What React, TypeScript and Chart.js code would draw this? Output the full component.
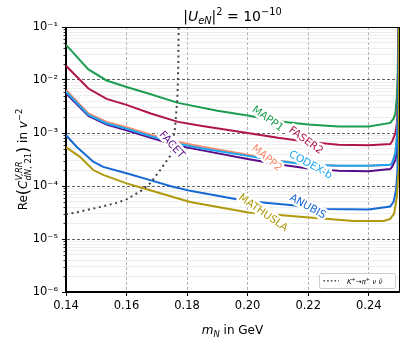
import React, { useEffect, useRef } from 'react';
import { Chart, registerables } from 'chart.js';

Chart.register(...registerables);

const FONT = "'DejaVu Sans', 'Liberation Sans', sans-serif";

// ---------- axis ticks ----------
const xTickValues = [0.14, 0.16, 0.18, 0.2, 0.22, 0.24];
const yDecadeValues = [1e-6, 1e-5, 1e-4, 1e-3, 1e-2, 1e-1];
const yDecadeLabels = ['10⁻⁶', '10⁻⁵', '10⁻⁴', '10⁻³', '10⁻²', '10⁻¹'];

// ---------- series (m_N in GeV, Re(C) in v^-2) ----------
const mapp1Mass = [0.14, 0.1474, 0.1534, 0.16, 0.168, 0.177, 0.19, 0.2, 0.21, 0.22, 0.23, 0.24, 0.2471, 0.2482, 0.2488, 0.2493, 0.2496, 0.24995];
const mapp1Values = [4.6e-2, 1.58e-2, 9.8e-3, 7.4e-3, 5.4e-3, 3.7e-3, 2.63e-3, 2.14e-3, 1.66e-3, 1.45e-3, 1.32e-3, 1.32e-3, 1.55e-3, 1.86e-3, 2.34e-3, 4.8e-3, 1.55e-2, 0.5];

const faser2Mass = [0.14, 0.1474, 0.1534, 0.16, 0.168, 0.177, 0.185, 0.2, 0.21, 0.22, 0.23, 0.24, 0.2471, 0.2477, 0.2488, 0.2493, 0.2496, 0.24995];
const faser2Values = [1.86e-2, 6.9e-3, 4.4e-3, 3.4e-3, 2.34e-3, 1.62e-3, 1.35e-3, 1.0e-3, 8.1e-4, 6.8e-4, 6.0e-4, 5.9e-4, 6.2e-4, 6.9e-4, 1.0e-3, 1.51e-3, 3.6e-3, 0.5];

const mapp2Mass = [0.14, 0.1474, 0.1534, 0.16, 0.168, 0.177, 0.185, 0.2, 0.21, 0.22, 0.23, 0.24, 0.2471, 0.2477, 0.2488, 0.2493, 0.2497, 0.24995];
const mapp2Values = [6.5e-3, 2.34e-3, 1.62e-3, 1.29e-3, 9.3e-4, 6.8e-4, 5.5e-4, 3.9e-4, 3.0e-4, 2.57e-4, 2.4e-4, 2.4e-4, 2.51e-4, 2.69e-4, 4.2e-4, 8.5e-4, 2.4e-3, 0.5];

const codexbMass = [0.14, 0.1474, 0.1534, 0.16, 0.168, 0.177, 0.185, 0.2, 0.21, 0.22, 0.23, 0.24, 0.2471, 0.2477, 0.2488, 0.2493, 0.2497, 0.24995];
const codexbValues = [6.0e-3, 2.19e-3, 1.51e-3, 1.2e-3, 8.7e-4, 6.3e-4, 5.1e-4, 3.7e-4, 2.95e-4, 2.51e-4, 2.4e-4, 2.4e-4, 2.51e-4, 2.69e-4, 4.2e-4, 8.5e-4, 2.4e-3, 0.5];

const facetMass = [0.14, 0.1474, 0.1534, 0.16, 0.168, 0.177, 0.185, 0.2, 0.21, 0.22, 0.23, 0.24, 0.2471, 0.2477, 0.2488, 0.2493, 0.2498, 0.24995];
const facetValues = [5.6e-3, 2.09e-3, 1.45e-3, 1.12e-3, 8.1e-4, 5.75e-4, 4.7e-4, 3.24e-4, 2.57e-4, 2.14e-4, 1.95e-4, 1.9e-4, 2.09e-4, 2.29e-4, 3.1e-4, 4.8e-4, 1.78e-3, 0.5];

const anubisMass = [0.14, 0.1435, 0.149, 0.1523, 0.16, 0.1678, 0.1744, 0.181, 0.1964, 0.203, 0.214, 0.226, 0.24, 0.2471, 0.2482, 0.249, 0.2495, 0.24995];
const anubisValues = [9.1e-4, 5.5e-4, 2.88e-4, 2.29e-4, 1.74e-4, 1.29e-4, 1.0e-4, 8.1e-5, 5.6e-5, 5.0e-5, 4.4e-5, 3.7e-5, 3.6e-5, 4.1e-5, 5.0e-5, 8.3e-5, 2.0e-4, 0.5];

const mathuslaMass = [0.14, 0.1446, 0.149, 0.1523, 0.16, 0.1678, 0.181, 0.2003, 0.2174, 0.235, 0.245, 0.2471, 0.2484, 0.2493, 0.2498, 0.24995];
const mathuslaValues = [5.4e-4, 3.55e-4, 2.0e-4, 1.62e-4, 1.12e-4, 8.3e-5, 5.0e-5, 3.16e-5, 2.63e-5, 2.19e-5, 2.19e-5, 2.4e-5, 3.0e-5, 6.3e-5, 1.74e-4, 0.5];

const kaonMass = [0.14, 0.1457, 0.1512, 0.1567, 0.16, 0.1644, 0.1678, 0.1711, 0.1744, 0.176, 0.1768, 0.1771, 0.1773];
const kaonValues = [2.9e-5, 3.4e-5, 4.0e-5, 4.8e-5, 5.6e-5, 7.8e-5, 1.12e-4, 2.0e-4, 3.7e-4, 1.23e-3, 4.5e-3, 1.9e-2, 0.4];

const seriesNames = ['MAPP1', 'FASER2', 'MAPP2', 'CODEX-b', 'FACET', 'ANUBIS', 'MATHUSLA'];
const kaonLegendName = 'K⁺→π⁺ ν ν̄';

// ---------- styles ----------
const COLORS: Record<string, string> = {
  MAPP1: '#1c9d52',
  FASER2: '#b0144c',
  MAPP2: '#f98a6b',
  'CODEX-b': '#1aa6f2',
  FACET: '#5a0c88',
  ANUBIS: '#1668d3',
  MATHUSLA: '#b09a0c',
};
// draw order: lower = on top
const ORDER: Record<string, number> = {
  MAPP1: 7, FASER2: 6, MAPP2: 5, 'CODEX-b': 3, FACET: 4, ANUBIS: 2, MATHUSLA: 1,
};

// label anchors (data coordinates) and rotation in degrees
const curveLabels = [
  { text: 'MAPP1', m: 0.2066, v: 1.84e-3, angle: 36 },
  { text: 'FASER2', m: 0.2192, v: 7.16e-4, angle: 36 },
  { text: 'MAPP2', m: 0.2063, v: 3.33e-4, angle: 40 },
  { text: 'CODEX-b', m: 0.2207, v: 2.49e-4, angle: 29 },
  { text: 'ANUBIS', m: 0.2198, v: 4.07e-5, angle: 29 },
  { text: 'MATHUSLA', m: 0.2051, v: 3.09e-5, angle: 35 },
  { text: 'FACET', m: 0.1749, v: 5.94e-4, angle: 48 },
];

type Run = { t: string; size: number; italic?: boolean; dy?: number };
type Item = Run | { stack: Run[][] };

function fontStr(r: Run) {
  return `${r.italic ? 'italic ' : ''}${r.size}px ${FONT}`;
}
function runW(ctx: CanvasRenderingContext2D, r: Run) {
  ctx.font = fontStr(r);
  return ctx.measureText(r.t).width;
}
function itemW(ctx: CanvasRenderingContext2D, it: Item): number {
  if ('stack' in it) {
    return Math.max(...it.stack.map((row) => row.reduce((s, r) => s + runW(ctx, r), 0)));
  }
  return runW(ctx, it);
}
function drawRich(ctx: CanvasRenderingContext2D, items: Item[], x: number, y: number, align: 'left' | 'center') {
  const total = items.reduce((s, it) => s + itemW(ctx, it), 0);
  let cx = align === 'center' ? x - total / 2 : x;
  ctx.textAlign = 'left';
  ctx.textBaseline = 'alphabetic';
  for (const it of items) {
    const w = itemW(ctx, it);
    if ('stack' in it) {
      for (const row of it.stack) {
        let rx = cx;
        for (const r of row) {
          ctx.font = fontStr(r);
          ctx.fillText(r.t, rx, y + (r.dy || 0));
          rx += ctx.measureText(r.t).width;
        }
      }
    } else {
      ctx.font = fontStr(it);
      ctx.fillText(it.t, cx, y + (it.dy || 0));
    }
    cx += w;
  }
}

function isDecade(v: number | undefined) {
  if (v === undefined || v <= 0) return false;
  const l = Math.log10(v);
  return Math.abs(l - Math.round(l)) < 1e-6;
}

function buildYTicks() {
  const ticks: { value: number }[] = [];
  for (let e = -6; e <= -2; e++) {
    for (let k = 1; k <= 9; k++) ticks.push({ value: k * Math.pow(10, e) });
  }
  ticks.push({ value: 1e-1 });
  return ticks;
}

const decorPlugin = {
  id: 'decor',
  beforeDraw(chart: any) {
    const { ctx } = chart;
    ctx.save();
    ctx.fillStyle = '#ffffff';
    ctx.fillRect(0, 0, chart.width, chart.height);
    ctx.restore();
  },
  afterDatasetsDraw(chart: any) {
    const { ctx, chartArea: a, scales } = chart;
    const xs = scales.x;
    const ys = scales.y;
    // curve labels
    for (const l of curveLabels) {
      const px = xs.getPixelForValue(l.m);
      const py = ys.getPixelForValue(l.v);
      ctx.save();
      ctx.translate(px, py);
      ctx.rotate((l.angle * Math.PI) / 180);
      ctx.font = `10.5px ${FONT}`;
      ctx.textAlign = 'center';
      ctx.textBaseline = 'middle';
      ctx.lineJoin = 'round';
      ctx.lineWidth = 5;
      ctx.strokeStyle = '#ffffff';
      ctx.strokeText(l.text, 0, 0);
      ctx.fillStyle = COLORS[l.text];
      ctx.fillText(l.text, 0, 0);
      ctx.restore();
    }
    // frame
    ctx.save();
    ctx.strokeStyle = '#000';
    ctx.lineWidth = 1;
    ctx.strokeRect(Math.round(a.left) - 0.5, Math.round(a.top) + 0.5, Math.round(a.right - a.left) + 1, Math.round(a.bottom - a.top) - 1);
    // minor y ticks
    ctx.beginPath();
    for (const t of buildYTicks()) {
      if (isDecade(t.value)) continue;
      const y = Math.round(ys.getPixelForValue(t.value)) + 0.5;
      ctx.moveTo(a.left - 2.5, y);
      ctx.lineTo(a.left, y);
    }
    ctx.lineWidth = 0.8;
    ctx.stroke();
    ctx.restore();
  },
  afterDraw(chart: any) {
    const { ctx, chartArea: a } = chart;
    const cxMid = (a.left + a.right) / 2;
    ctx.save();
    ctx.fillStyle = '#000';
    // title
    drawRich(
      ctx,
      [
        { t: '|', size: 14 },
        { t: 'U', size: 14, italic: true },
        { t: 'eN', size: 9.8, italic: true, dy: 3 },
        { t: '|', size: 14 },
        { t: '2', size: 9.8, dy: -6 },
        { t: ' = ', size: 14 },
        { t: '10', size: 14 },
        { t: '−10', size: 9.8, dy: -6 },
      ],
      cxMid,
      21,
      'center'
    );
    // x label
    drawRich(
      ctx,
      [
        { t: 'm', size: 12, italic: true },
        { t: 'N', size: 8.4, italic: true, dy: 2.5 },
        { t: ' in GeV', size: 12 },
      ],
      cxMid,
      334,
      'center'
    );
    // y label
    ctx.save();
    ctx.translate(27, (a.top + a.bottom) / 2);
    ctx.rotate(-Math.PI / 2);
    drawRich(
      ctx,
      [
        { t: 'Re', size: 12 },
        { t: '(', size: 16, dy: 1 },
        { t: 'C', size: 12, italic: true },
        {
          stack: [
            [{ t: 'V,RR', size: 8.4, italic: true, dy: -5.5 }],
            [
              { t: 'dN', size: 8.4, italic: true, dy: 3.5 },
              { t: ', 21', size: 8.4, dy: 3.5 },
            ],
          ],
        },
        { t: ')', size: 16, dy: 1 },
        { t: ' in ', size: 12 },
        { t: 'v', size: 12, italic: true },
        { t: '−2', size: 8.4, dy: -5 },
      ],
      0,
      0,
      'center'
    );
    ctx.restore();
    // legend
    const lx = 319.5, ly = 273.5, lw = 76, lh = 15;
    ctx.beginPath();
    if ((ctx as any).roundRect) (ctx as any).roundRect(lx, ly, lw, lh, 2);
    else ctx.rect(lx, ly, lw, lh);
    ctx.fillStyle = 'rgba(255,255,255,0.85)';
    ctx.fill();
    ctx.strokeStyle = '#cccccc';
    ctx.lineWidth = 1;
    ctx.stroke();
    ctx.beginPath();
    ctx.setLineDash([1.5, 2.2]);
    ctx.strokeStyle = '#444';
    ctx.lineWidth = 1.5;
    ctx.moveTo(323.5, 280.8);
    ctx.lineTo(339, 280.8);
    ctx.stroke();
    ctx.setLineDash([]);
    ctx.fillStyle = '#000';
    drawRich(
      ctx,
      [
        { t: 'K', size: 7, italic: true },
        { t: '+', size: 5, dy: -3 },
        { t: '→', size: 7 },
        { t: 'π', size: 7, italic: true },
        { t: '+', size: 5, dy: -3 },
        { t: ' ν ν̄', size: 7, italic: true },
      ],
      347,
      283.5,
      'left'
    );
    ctx.restore();
  },
};

function makeSeries(name: string, mass: number[], values: number[]) {
  return {
    label: name,
    data: mass.map((m, i) => ({ x: m, y: values[i] })),
    borderColor: COLORS[name],
    backgroundColor: COLORS[name],
    borderWidth: 2,
    pointRadius: 0,
    tension: 0,
    fill: false,
    order: ORDER[name],
  };
}

export default function App() {
  const canvasRef = useRef<HTMLCanvasElement | null>(null);

  useEffect(() => {
    document.body.style.margin = '0';
    const canvas = canvasRef.current;
    if (!canvas) return;
    const datasets: any[] = [
      makeSeries(seriesNames[0], mapp1Mass, mapp1Values),
      makeSeries(seriesNames[1], faser2Mass, faser2Values),
      makeSeries(seriesNames[2], mapp2Mass, mapp2Values),
      makeSeries(seriesNames[3], codexbMass, codexbValues),
      makeSeries(seriesNames[4], facetMass, facetValues),
      makeSeries(seriesNames[5], anubisMass, anubisValues),
      makeSeries(seriesNames[6], mathuslaMass, mathuslaValues),
      {
        label: kaonLegendName,
        data: kaonMass.map((m, i) => ({ x: m, y: kaonValues[i] })),
        borderColor: '#444444',
        borderWidth: 2,
        borderDash: [2, 3.6],
        pointRadius: 0,
        tension: 0,
        fill: false,
        order: 0,
      },
    ];

    const chart = new Chart(canvas, {
      type: 'line',
      data: { datasets },
      options: {
        animation: false,
        responsive: false,
        devicePixelRatio: 1,
        layout: { padding: { top: 27, right: 9, left: 0, bottom: 0 } },
        plugins: {
          legend: { display: false },
          title: { display: false },
          tooltip: { enabled: false },
        },
        scales: {
          x: {
            type: 'linear',
            min: 0.14,
            max: 0.25,
            afterBuildTicks: (s: any) => {
              s.ticks = xTickValues.map((v) => ({ value: v }));
            },
            afterFit: (s: any) => {
              s.height = 59;
            },
            ticks: {
              autoSkip: false,
              maxRotation: 0,
              padding: 3,
              color: '#000',
              font: { family: FONT, size: 11.5 },
              callback: (v: any) => Number(v).toFixed(2),
            },
            grid: {
              color: '#9c9c9c',
              lineWidth: 0.8,
              tickLength: 4,
              tickColor: '#000',
              tickWidth: 1,
            },
            border: { display: true, color: '#000', width: 1, dash: [3, 2] },
          },
          y: {
            type: 'logarithmic',
            min: 1e-6,
            max: 1e-1,
            afterBuildTicks: (s: any) => {
              s.ticks = buildYTicks();
            },
            afterFit: (s: any) => {
              s.width = 66;
            },
            ticks: {
              autoSkip: false,
              padding: 4,
              color: '#000',
              font: { family: FONT, size: 11.5 },
              callback: (v: any) => {
                const idx = yDecadeValues.findIndex((d) => Math.abs(Math.log10(d) - Math.log10(Number(v))) < 1e-6);
                return idx >= 0 ? yDecadeLabels[idx] : '';
              },
            },
            grid: {
              color: (c: any) => (isDecade(c.tick?.value) ? '#3c3c3c' : '#e3e3e3'),
              lineWidth: (c: any) => (isDecade(c.tick?.value) ? 0.8 : 0.6),
              tickLength: 4,
              tickColor: (c: any) => (isDecade(c.tick?.value) ? '#000' : 'rgba(0,0,0,0)'),
              tickWidth: 1,
            },
            border: {
              display: true,
              color: '#000',
              width: 1,
              dash: (c: any) => (c.tick && isDecade(c.tick.value) ? [3, 2] : []),
            },
          },
        },
      },
      plugins: [decorPlugin],
    });

    return () => {
      chart.destroy();
    };
  }, []);

  return (
    <div style={{ width: 408, height: 351 }}>
      <canvas ref={canvasRef} width={408} height={351} style={{ display: 'block', width: 408, height: 351 }} />
    </div>
  );
}
